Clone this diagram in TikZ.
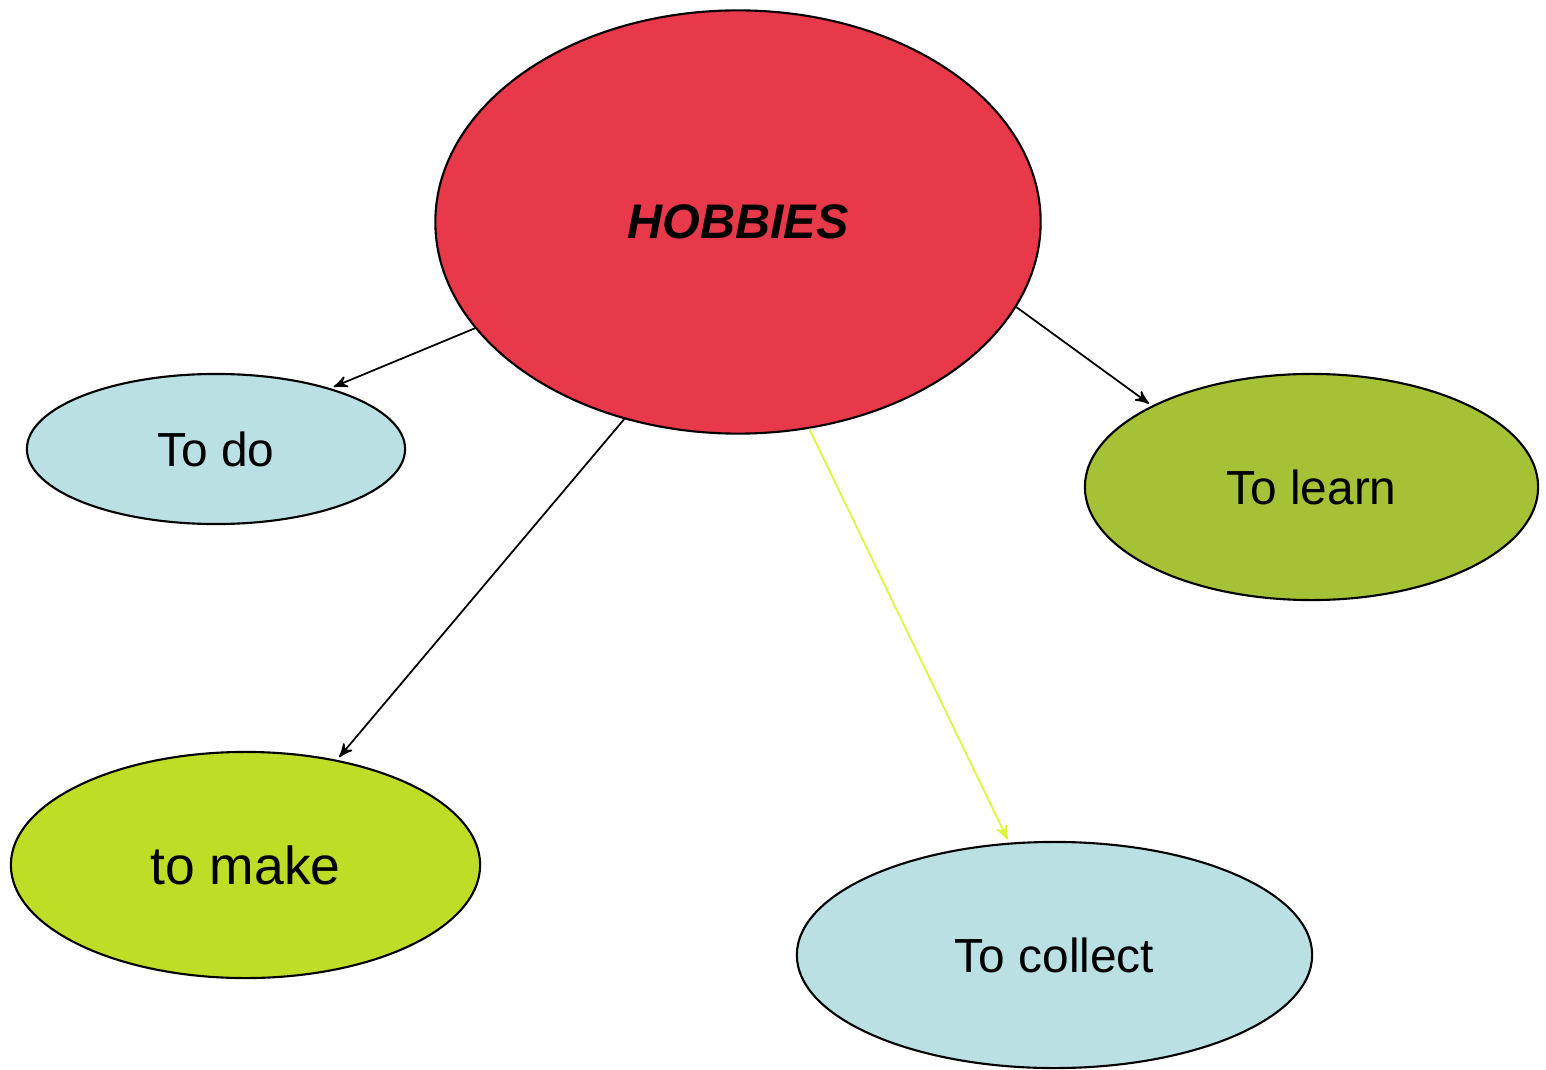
\documentclass[tikz,border=0pt]{standalone}
\usepackage{fontspec}
\setmainfont{Liberation Sans}
\usetikzlibrary{arrows,shapes.geometric}

\definecolor{hobred}{HTML}{E8394A}
\definecolor{paleblue}{HTML}{BBE0E3}
\definecolor{olive}{HTML}{A5C136}
\definecolor{lime}{HTML}{BEDD27}
\definecolor{lemon}{HTML}{DDF53A}

\begin{document}
\begin{tikzpicture}[x=0.01cm,y=0.01cm,>=stealth',shorten >=1pt,
  topic/.style={ellipse,draw,line width=0.6pt,inner sep=0pt,font=\fontsize{13.6}{15}\selectfont},
  link/.style={line width=0.5pt}]
\useasboundingbox (0,0) rectangle (1546,1069);

\node[topic,fill=hobred,minimum width=6.05cm,minimum height=4.23cm,
      font=\fontsize{13.8}{16}\selectfont\bfseries\itshape]   (hobbies) at (738,847)    {HOBBIES};
\node[topic,fill=paleblue,minimum width=3.78cm,minimum height=1.50cm]   (todo) at (216,620)       {To do};
\node[topic,fill=olive,minimum width=4.53cm,minimum height=2.26cm]      (learn) at (1311.5,582)   {To learn};
\node[topic,fill=lime,minimum width=4.69cm,minimum height=2.26cm,
      font=\fontsize{15.2}{17}\selectfont]                               (make) at (245.5,204)     {to make};
\node[topic,fill=paleblue,minimum width=5.15cm,minimum height=2.26cm]   (collect) at (1054.5,114) {To collect};

	\path[->,link] (hobbies.202)  edge 	(todo.28)
					(hobbies.240)  edge 	(make.49)
					(hobbies.289)  edge[lemon] 	(collect.112)
					(hobbies.343)  edge 	(learn.153);

\end{tikzpicture}
\end{document}
